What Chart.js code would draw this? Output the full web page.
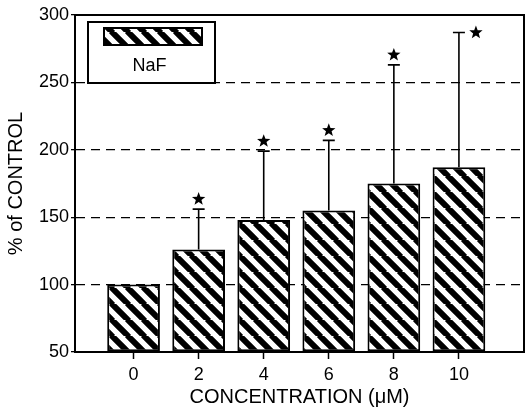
<!DOCTYPE html>
<html lang="en">
<head>
    <meta charset="UTF-8">
    <title>NaF % of control</title>
    <script src="https://cdn.jsdelivr.net/npm/chart.js"></script>
    <style>
        body { margin: 0; background: #fff; }
        #wrap { width: 528px; height: 415px; }
    </style>
</head>
<body>
    <div id="wrap"><canvas id="nafChart" width="528" height="415"></canvas></div>
    <script>
        // values
        const concentrations = [0, 2, 4, 6, 8, 10];
        const nafPercent = [100, 126, 148, 155, 175, 187];
        const nafSd = [0, 30, 51, 52, 88, 100];
        const significant = [false, true, true, true, true, true];
        const yTicks = [50, 100, 150, 200, 250, 300];

        const FONT = 'Liberation Sans, Arial, Helvetica, sans-serif';

        // diagonal hatch "\\\" like the printed bars
        function makeHatch(size) {
            const tile = document.createElement('canvas');
            tile.width = size;
            tile.height = size;
            const t = tile.getContext('2d');
            t.fillStyle = '#fff';
            t.fillRect(0, 0, size, size);
            t.strokeStyle = '#000';
            t.lineWidth = size * 0.37;
            t.beginPath();
            for (let k = -1; k <= 1; k++) {
                t.moveTo(k * size - 1, -1);
                t.lineTo(k * size + size + 1, size + 1);
            }
            t.stroke();
            return t.createPattern(tile, 'repeat');
        }

        const ctx = document.getElementById('nafChart').getContext('2d');
        const hatch = makeHatch(16);

        function drawStar(c, cx, cy, r) {
            c.beginPath();
            for (let i = 0; i < 10; i++) {
                const rad = i % 2 === 0 ? r : r * 0.42;
                const a = -Math.PI / 2 + i * Math.PI / 5;
                const px = cx + rad * Math.cos(a);
                const py = cy + rad * Math.sin(a);
                if (i === 0) c.moveTo(px, py); else c.lineTo(px, py);
            }
            c.closePath();
            c.fill();
        }

        const extras = {
            id: 'extras',
            afterDatasetsDraw(chart) {
                const c = chart.ctx;
                const xs = chart.scales.x;
                const ys = chart.scales.y;
                const area = chart.chartArea;
                c.save();
                c.strokeStyle = '#000';
                c.fillStyle = '#000';
                c.lineWidth = 1.6;
                concentrations.forEach((x, i) => {
                    const px = xs.getPixelForValue(x);
                    const y0 = ys.getPixelForValue(nafPercent[i]);
                    const y1 = ys.getPixelForValue(nafPercent[i] + nafSd[i]);
                    if (nafSd[i] > 0) {
                        c.beginPath();
                        c.moveTo(px, y0);
                        c.lineTo(px, y1);
                        c.moveTo(px - 6, y1);
                        c.lineTo(px + 6, y1);
                        c.stroke();
                    }
                    if (significant[i]) {
                        let sx = px, sy = y1 - 10;
                        if (sy - 8 < area.top + 4) { sx = px + 17; sy = y1; }
                        drawStar(c, sx, sy, 7);
                    }
                });

                // frame
                c.lineWidth = 2;
                c.strokeRect(area.left, area.top, area.right - area.left, area.bottom - area.top);

                // legend box
                const lx = area.left + 13, ly = area.top + 7, lw = 127, lh = 61;
                c.fillStyle = '#fff';
                c.fillRect(lx, ly, lw, lh);
                c.lineWidth = 2;
                c.strokeRect(lx, ly, lw, lh);
                c.fillStyle = hatch;
                c.fillRect(lx + 16, ly + 6, 98, 17);
                c.strokeRect(lx + 16, ly + 6, 98, 17);
                c.fillStyle = '#000';
                c.font = '18px ' + FONT;
                c.textAlign = 'center';
                c.textBaseline = 'middle';
                c.fillText('NaF', lx + lw / 2 - 2, ly + 44);
                c.restore();
            }
        };

        const nafChart = new Chart(ctx, {
            type: 'bar',
            data: {
                datasets: [{
                    label: 'NaF',
                    data: concentrations.map((x, i) => ({ x: x, y: nafPercent[i] })),
                    backgroundColor: hatch,
                    borderColor: '#000',
                    borderWidth: 2,
                    borderSkipped: false,
                    base: 50,
                    barPercentage: 0.81,
                    categoryPercentage: 1
                }]
            },
            options: {
                responsive: false,
                animation: false,
                layout: { padding: { top: 15, right: 4, left: 0, bottom: 0 } },
                plugins: {
                    legend: { display: false },
                    tooltip: { enabled: false }
                },
                scales: {
                    x: {
                        type: 'linear',
                        offset: false,
                        min: -1.8,
                        max: 12,
                        afterBuildTicks: (s) => { s.ticks = concentrations.map(v => ({ value: v })); },
                        afterFit: (s) => { s.height = 63; },
                        ticks: {
                            color: '#000',
                            font: { size: 18, family: FONT },
                            padding: 5
                        },
                        grid: {
                            offset: false,
                            drawOnChartArea: false,
                            drawTicks: true,
                            tickLength: 7,
                            tickColor: '#000',
                            tickWidth: 1.5
                        },
                        border: { display: true, color: '#000', width: 2 },
                        title: {
                            display: true,
                            text: 'CONCENTRATION (\u03bcM)',
                            color: '#000',
                            font: { size: 20, family: FONT },
                            padding: { top: 0, bottom: 6 }
                        }
                    },
                    y: {
                        min: 50,
                        max: 300,
                        afterBuildTicks: (s) => { s.ticks = yTicks.map(v => ({ value: v })); },
                        afterFit: (s) => { s.width = 75; },
                        ticks: {
                            color: '#000',
                            font: { size: 18, family: FONT },
                            padding: 2
                        },
                        grid: {
                            color: (c) => (c.tick && (c.tick.value === 50 || c.tick.value === 300)) ? 'rgba(0,0,0,0)' : '#000',
                            lineWidth: 1.3,
                            tickColor: '#000',
                            tickLength: 4,
                            drawTicks: true
                        },
                        border: { display: true, color: '#000', width: 2, dash: [9, 6] },
                        title: {
                            display: true,
                            text: '% of CONTROL',
                            color: '#000',
                            font: { size: 20, family: FONT },
                            padding: { top: 4, bottom: 2 }
                        }
                    }
                }
            },
            plugins: [extras]
        });
    </script>
</body>
</html>
